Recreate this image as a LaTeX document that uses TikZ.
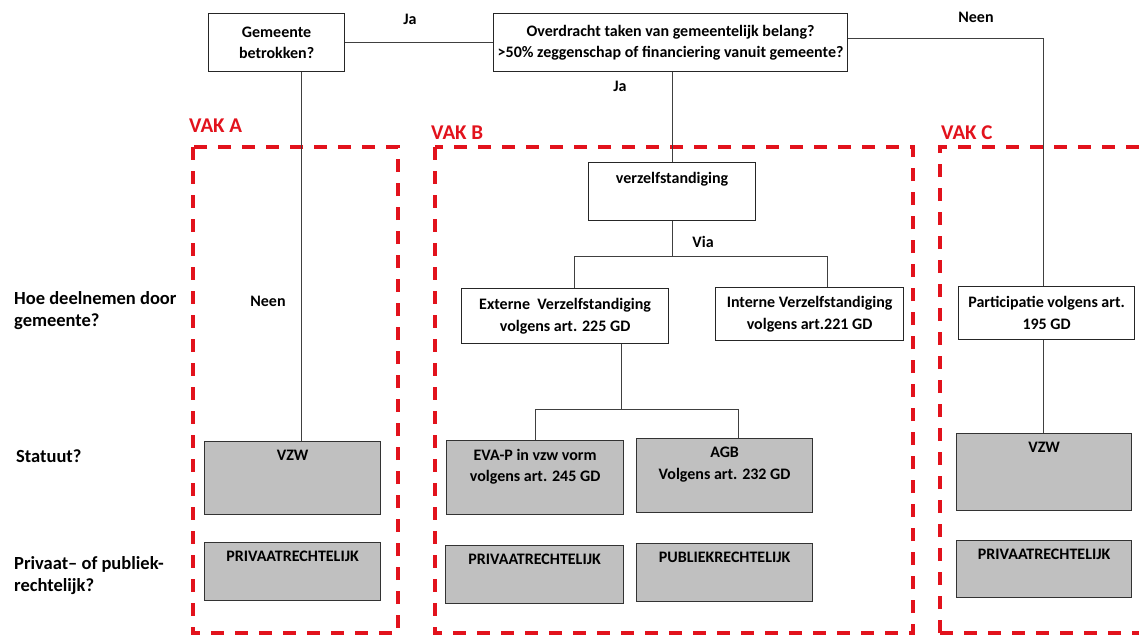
\documentclass[tikz,border=0pt]{standalone}
\usepackage{fontspec}
\setmainfont{Carlito}
\definecolor{vakred}{RGB}{226,18,28}
\definecolor{boxgray}{RGB}{192,192,192}
\begin{document}
\begin{tikzpicture}[x=1pt,y=-1pt,
  txt/.style={font=\bfseries\fontsize{16}{21.5}\selectfont},
  wbox/.style={txt, draw=black!85, line width=1.2pt, fill=white, align=center, inner sep=0pt, anchor=north west},
  gbox/.style={draw=black!80, line width=1.2pt, fill=boxgray, inner sep=0pt, anchor=north west},
  intxt/.style={txt, align=center, anchor=north, inner sep=0pt, yshift=-9pt},
  conn/.style={draw=black!75, line width=0.8pt},
  vak/.style={draw=vakred, line width=3.6pt, dash pattern=on 13pt off 11pt},
  vaklbl/.style={text=vakred, font=\bfseries\fontsize{21}{24}\selectfont, anchor=west, inner sep=0pt},
  side/.style={font=\bfseries\fontsize{18.5}{22}\selectfont, align=left, anchor=west, inner sep=0pt},
  lbl/.style={txt, inner sep=0pt}
]
\useasboundingbox (0,0) rectangle (1139,635);
\clip (0,0) rectangle (1139,635);

% dashed zones
\draw[vak] (193,147) rectangle (398,633);
\draw[vak] (435,147) rectangle (913,633);
\draw[vak] (940,633) -- (940,147) -- (1160,147);
\draw[vak] (940,633) -- (1160,633);
\node[vaklbl] (vakA) at (189,126) {VAK A};
\node[vaklbl] (vakB) at (431,133) {VAK B};
\node[vaklbl] (vakC) at (941,133) {VAK C};

% side labels
\node[side] (q1) at (14,311) {Hoe deelnemen door\\gemeente?};
\node[side] (q2) at (16,456) {Statuut?};
\node[side] (q3) at (14,576) {Privaat-- of publiek-\\rechtelijk?};

% top boxes
\node[wbox, minimum width=136pt, minimum height=58pt] (b1) at (208,13) {Gemeente\\betrokken?};
\node[wbox, minimum width=354pt, minimum height=58pt] (b2) at (493,13) {Overdracht taken van gemeentelijk belang?\\>50\% zeggenschap of financiering vanuit gemeente?};

% vak B
\node[wbox, minimum width=167pt, minimum height=58pt] (verz) at (588,162) {};
\node[intxt] at ([yshift=-1pt]verz.north) {verzelfstandiging};
\node[wbox, minimum width=207pt, minimum height=55pt] (ext) at (461,288) {Externe~ Verzelfstandiging\\volgens art. 225 GD};
\node[wbox, minimum width=188pt, minimum height=53pt] (int) at (715,287) {Interne Verzelfstandiging\\volgens art.221 GD};
\node[gbox, minimum width=177pt, minimum height=74pt] (eva) at (446,440) {};
\node[intxt] at (eva.north) {EVA-P in vzw vorm\\volgens art. 245 GD};
\node[gbox, minimum width=176pt, minimum height=74pt] (agb) at (636,438) {};
\node[intxt] at (agb.north) {AGB\\Volgens art. 232 GD};
\node[gbox, minimum width=178pt, minimum height=58pt] (privB) at (445,545) {};
\node[intxt] at (privB.north) {PRIVAATRECHTELIJK};
\node[gbox, minimum width=176pt, minimum height=58pt] (publB) at (636,543) {};
\node[intxt] at (publB.north) {PUBLIEKRECHTELIJK};

% vak A
\node[gbox, minimum width=176pt, minimum height=73pt] (vzwA) at (204,441) {};
\node[intxt] at (vzwA.north) {VZW};
\node[gbox, minimum width=176pt, minimum height=58pt] (privA) at (204,542) {};
\node[intxt] at (privA.north) {PRIVAATRECHTELIJK};

% vak C
\node[wbox, minimum width=176pt, minimum height=53pt] (part) at (958,286) {Participatie volgens art.\\195 GD};
\node[gbox, minimum width=175pt, minimum height=77pt] (vzwC) at (956,433) {};
\node[intxt] at (vzwC.north) {VZW};
\node[gbox, minimum width=175pt, minimum height=57pt] (privC) at (956,540) {};
\node[intxt] at (privC.north) {PRIVAATRECHTELIJK};

% connectors
\draw[conn] (b1.east) -- (b2.west);
\draw[conn] ([yshift=4pt]b2.east) -| ([xshift=-3pt]part.north);
\draw[conn] ([xshift=25pt]b1.south) -- ([xshift=25pt]b1.south |- vzwA.north);
\draw[conn] (verz.north |- b2.south) -- (verz.north);
\coordinate (via) at ([yshift=-35pt]verz.south);
\draw[conn] (verz.south) -- (via);
\draw[conn] ([xshift=9pt]ext.north) |- (via) -| ([xshift=18pt]int.north);
\coordinate (split) at ([xshift=56pt,yshift=-65pt]ext.south);
\draw[conn] ([xshift=56pt]ext.south) -- (split);
\draw[conn] (eva.north) |- (split) -| ([xshift=14pt]agb.north);
\draw[conn] ([xshift=-3pt]part.south) -- ([xshift=-3pt]part.south |- vzwC.north);

% connector labels
\node[lbl] (ja1) at (410,19) {Ja};
\node[lbl] (ja2) at (620,86) {Ja};
\node[lbl] (neen1) at (976,17) {Neen};
\node[lbl] (neen2) at (268,301) {Neen};
\node[lbl] (via-l) at (703,242) {Via};
\end{tikzpicture}
\end{document}
